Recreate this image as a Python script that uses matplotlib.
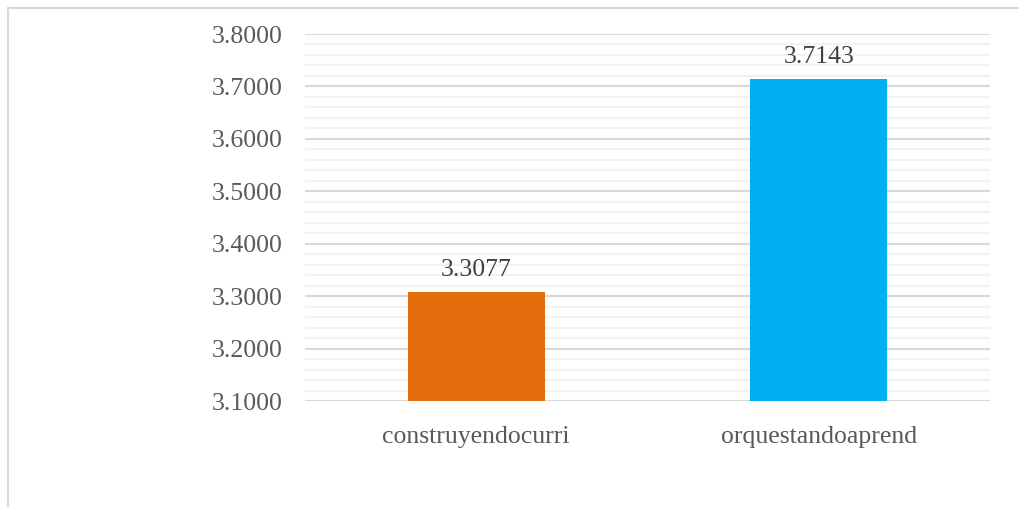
import matplotlib
matplotlib.use("Agg")
import matplotlib.pyplot as plt
from matplotlib.ticker import MultipleLocator, FormatStrFormatter
from matplotlib.patches import Rectangle

categories = ["construyendocurri", "orquestandoaprend"]
values = [3.3077, 3.7143]
colors = ["#E46C0A", "#00B0F0"]

plt.rcParams['font.family'] = ['Liberation Serif', 'DejaVu Serif']

fig = plt.figure(figsize=(10.2, 5.07), dpi=100)
W, H = 1020, 507
ax = fig.add_axes([305 / W, 1 - 401 / H, 685 / W, (401 - 34) / H])

# outer chart border
fig.add_artist(Rectangle((8 / W, -0.1), 1.2, 1 - 8 / H + 0.1, transform=fig.transFigure,
                         fill=False, edgecolor="#D9D9D9", linewidth=1.5))

x = list(range(len(categories)))
ax.bar(x, [v - 3.1 for v in values], bottom=3.1, width=0.4, color=colors, zorder=3)
ax.set_xlim(-0.5, 1.5)
ax.set_ylim(3.1, 3.8)
ax.yaxis.set_major_locator(MultipleLocator(0.1))
ax.yaxis.set_minor_locator(MultipleLocator(0.02))
ax.yaxis.set_major_formatter(FormatStrFormatter("%.4f"))
ax.grid(which="major", axis="y", color="#D9D9D9", linewidth=1.5, zorder=1)
ax.grid(which="minor", axis="y", color="#F2F2F2", linewidth=1.5, zorder=0)
for s in ax.spines.values():
    s.set_visible(False)
ax.tick_params(axis="both", which="both", length=0, colors="#595959", labelsize=18.5)
ax.tick_params(axis="y", pad=16)
ax.tick_params(axis="x", pad=18)
ax.set_xticks(x)
ax.set_xticklabels(categories)
for xi, v in zip(x, values):
    ax.annotate(f"{v:.4f}", (xi, v), xytext=(0, 8), textcoords="offset points",
                ha="center", va="bottom", color="#404040", fontsize=18.5)

fig.savefig("out.png", dpi=100)
